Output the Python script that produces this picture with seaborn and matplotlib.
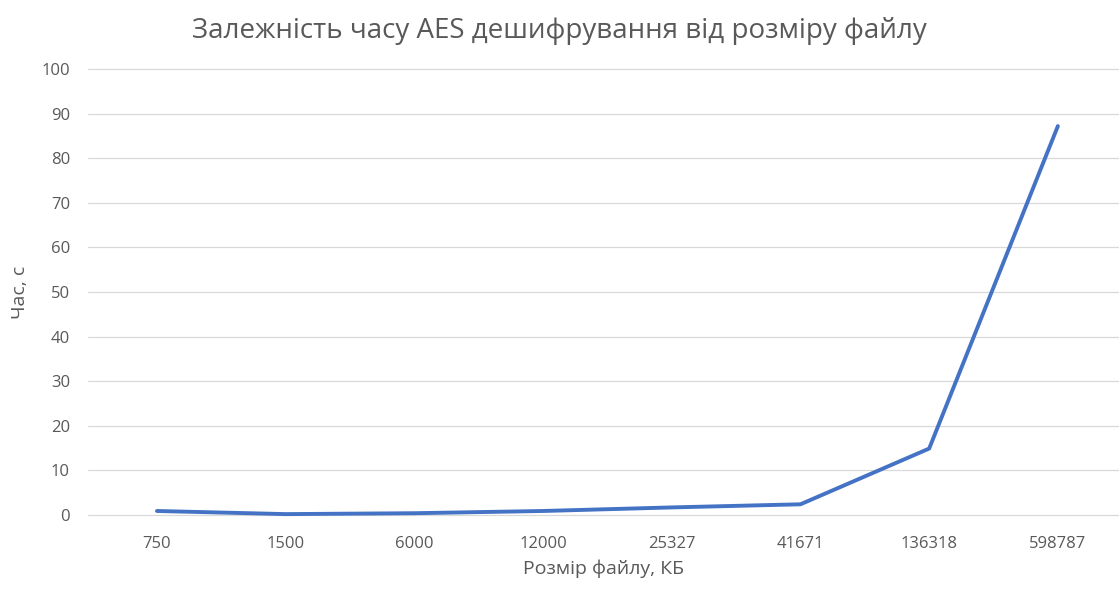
import pandas as pd
import seaborn as sns
import matplotlib.pyplot as plt

sizes = ['750', '1500', '6000', '12000', '25327', '41671', '136318', '598787']
times = [0.9, 0.2, 0.4, 0.9, 1.7, 2.4, 14.9, 87.2]
yticks = [0, 10, 20, 30, 40, 50, 60, 70, 80, 90, 100]

df = pd.DataFrame({'size': sizes, 'time': times})

sns.set_style('white')
plt.rcParams['font.family'] = ['Open Sans', 'DejaVu Sans']
grey = '#595959'

fig = plt.figure(figsize=(11.19, 5.9), dpi=100)
ax = fig.add_axes([88 / 1119, 75 / 590, 1 - 88 / 1119, 446 / 590])

sns.lineplot(data=df, x='size', y='time', ax=ax, color='#4472C4',
             linewidth=2.8, sort=False, clip_on=False)

ax.set_xlim(-0.536, 7.475)
ax.set_ylim(0, 100)
ax.set_yticks(yticks)
ax.grid(axis='y', color='#d9d9d9', linewidth=0.9)
ax.grid(axis='x', visible=False)
ax.set_axisbelow(True)
for gl in ax.get_ygridlines():
    gl.set_clip_on(False)
for s in ax.spines.values():
    s.set_visible(False)
ax.tick_params(axis='y', length=0, pad=13, labelsize=12, labelcolor=grey)
ax.tick_params(axis='x', length=0, pad=15, labelsize=12, labelcolor=grey)

ax.set_xlabel('Розмір файлу, КБ', fontsize=14, color=grey)
ax.set_ylabel('Час, с', fontsize=14, color=grey)
ax.xaxis.set_label_coords(0.5, -0.1)
ax.yaxis.set_label_coords(-0.057, 0.5)
fig.text(0.5, 1 - 31 / 590, 'Залежність часу AES дешифрування від розміру файлу',
         ha='center', va='center', fontsize=20, color=grey)

fig.savefig('out.png', dpi=100)
